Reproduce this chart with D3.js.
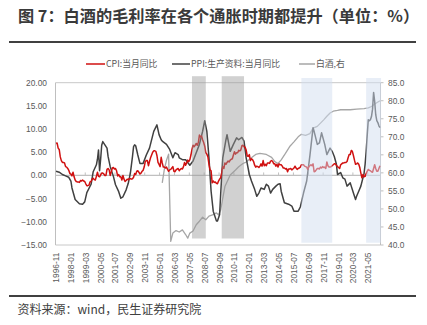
<!DOCTYPE html>
<html><head><meta charset="utf-8">
<script src="https://cdn.jsdelivr.net/npm/d3@7"></script>
<style>
html,body{margin:0;padding:0;background:#fff;}
svg{display:block;}
</style></head>
<body><svg id="c" width="427" height="325"></svg>
<script>
// ---------- DATA ----------
const startMonth = "1996-11";
const endMonth = "2022-04";
// CPI yoy, monthly from 1996-11 to 2022-04
const cpiValues = [
6.9,7.0,
5.9,5.6,4.0,3.2,2.8,2.8,2.7,1.9,1.8,1.5,1.1,0.4,
0.3,-0.1,0.7,-0.3,-1.0,-1.3,-1.4,-1.4,-1.5,-1.1,-1.2,-1.0,
-1.2,-1.3,-1.8,-2.2,-2.2,-2.1,-1.4,-1.3,-0.8,-0.6,-0.9,-1.0,
-0.2,0.7,-0.2,-0.3,0.1,0.5,0.5,0.3,0.0,0.0,1.3,1.5,
1.2,0.0,0.8,1.6,1.7,1.4,1.5,1.0,-0.1,0.2,-0.3,-0.3,
-1.0,0.0,-0.8,-1.3,-1.1,-0.8,-0.9,-0.7,-0.7,-0.8,-0.7,-0.4,
0.4,0.2,0.9,1.0,0.7,0.3,0.5,0.9,1.1,1.8,3.0,3.2,
3.2,2.1,3.0,3.8,4.4,5.0,5.3,5.3,5.2,4.3,2.8,2.4,
1.9,3.9,2.7,1.8,1.8,1.6,1.8,1.3,0.9,1.2,1.3,1.6,
1.9,0.9,0.8,1.2,1.4,1.5,1.0,1.3,1.5,1.4,1.9,2.8,
2.2,2.7,3.3,3.0,3.4,4.4,5.6,6.5,6.2,6.5,6.9,6.5,
7.1,8.7,8.3,8.5,7.7,7.1,6.3,4.9,4.6,4.0,2.4,1.2,
1.0,-1.6,-1.2,-1.5,-1.4,-1.7,-1.8,-1.2,-0.8,-0.5,0.6,1.9,
1.5,2.7,2.4,2.8,3.1,2.9,3.3,3.5,3.6,4.4,5.1,4.6,
4.9,4.9,5.4,5.3,5.5,6.4,6.5,6.2,6.1,5.5,4.2,4.1,
4.5,3.2,3.6,3.4,3.0,2.2,1.8,2.0,1.9,1.7,2.0,2.5,
2.0,3.2,2.1,2.4,2.1,2.7,2.7,2.6,3.1,3.2,3.0,2.5,
2.5,2.0,2.4,1.8,2.5,2.3,2.3,2.0,1.6,1.6,1.4,1.5,
0.8,1.4,1.4,1.5,1.2,1.4,1.6,2.0,1.6,1.3,1.5,1.6,
1.8,2.3,2.3,2.3,2.0,1.9,1.8,1.3,1.9,2.1,2.3,2.1,
2.5,0.8,0.9,1.2,1.5,1.5,1.4,1.8,1.6,1.9,1.7,1.8,
1.5,2.9,2.1,1.8,1.8,1.9,2.1,2.3,2.5,2.5,2.2,1.9,
1.7,1.5,2.3,2.5,2.7,2.7,2.8,2.8,3.0,3.8,4.5,4.5,
5.4,5.2,4.3,3.3,2.4,2.5,2.7,2.4,1.7,0.5,-0.5,0.2,
-0.3,-0.2,0.4,0.9,1.3,1.1,1.0,0.8,0.7,1.5,2.3,1.5,
0.9,0.9,1.5,2.1
];
// PPI producer goods yoy
const ppiDates = ["1996-11","1997-02","1997-05","1997-08","1997-11","1998-01","1998-02","1998-05","1998-09","1998-12",
"1999-02","1999-04","1999-08","1999-10","2000-01","2000-02","2000-03","2000-04","2000-05","2000-06","2000-07","2000-09","2000-11","2000-12",
"2001-02","2001-05","2001-07","2001-10","2001-12","2002-02","2002-05","2002-07","2002-09","2002-11","2002-12",
"2003-01","2003-02","2003-04","2003-06","2003-09","2003-12","2004-03","2004-07","2004-10","2004-12",
"2005-02","2005-03","2005-07","2005-10","2006-01","2006-03","2006-06","2006-07","2006-10",
"2007-01","2007-05","2007-08","2007-11","2008-02","2008-05","2008-07","2008-09","2008-11",
"2009-01","2009-03","2009-06","2009-07","2009-09","2009-10","2009-12","2010-03","2010-04","2010-07","2010-10",
"2011-01","2011-03","2011-06","2011-08","2011-10","2012-01","2012-03","2012-06","2012-08","2012-10","2012-12",
"2013-03","2013-05","2013-07","2013-09","2013-11","2014-02","2014-04","2014-06","2014-07","2014-10",
"2015-02","2015-05","2015-07","2015-11","2016-01","2016-04","2016-07","2016-10",
"2017-01","2017-02","2017-05","2017-07","2017-09","2017-12","2018-02","2018-05","2018-07","2018-09","2018-11","2018-12",
"2019-03","2019-05","2019-07","2019-09","2019-12","2020-03","2020-05","2020-06","2020-08","2020-10","2020-12",
"2021-01","2021-02","2021-03","2021-04","2021-05","2021-06","2021-07","2021-08","2021-09","2021-10","2021-11","2021-12",
"2022-01","2022-02","2022-03","2022-04"];
const ppiValues = [0.9,0.7,0.2,-0.1,-0.4,-1.2,-2.7,-5.2,-6.1,-6.2,
-5.7,-3.7,-1.9,0.8,2.3,3.5,5.5,1.0,3.5,6.5,7.3,6.6,5.9,4.1,
1.9,-0.2,-2.0,-3.5,-4.9,-4.6,-3.1,-1.7,0.5,4.1,6.2,
6.6,6.4,4.4,2.6,2.6,4.4,5.9,9.5,10.9,8.8,
7.7,7.4,6.7,5.6,3.8,4.9,4.5,3.8,3.4,
3.4,2.2,3.1,4.9,6.7,9.5,11.8,9.5,3.8,
-3.4,-7.7,-9.8,-9.8,-8.5,-4.1,3.8,7.7,8.8,5.2,6.7,
8.1,7.7,8.2,7.4,3.8,0.2,-1.2,-3.0,-4.5,-3.8,-2.7,
-3.0,-1.9,-2.3,-3.8,-3.0,-2.3,-1.9,-1.8,-3.4,-5.9,
-6.2,-6.6,-7.7,-7.7,-6.8,-3.8,-1.2,4.2,
10.3,9.5,6.7,7.0,9.2,6.7,4.5,5.9,5.2,4.1,2.4,0.2,
0.6,-0.5,-0.8,-2.3,-1.6,-3.8,-5.2,-4.5,-3.4,-2.3,-0.5,
0.4,2.4,5.2,8.7,12.0,11.8,12.0,12.7,14.3,17.9,16.0,13.1,
11.8,11.4,10.7,10.3];
// Baijiu gross margin (right axis)
const baijiuDates = ["2005-03","2005-05","2005-07","2005-09","2005-11","2006-01","2006-04","2006-07","2006-10",
"2007-01","2007-03","2007-05","2007-08","2007-11","2008-02","2008-05","2008-08","2008-11",
"2009-03","2009-06","2009-08","2009-10","2009-12","2010-02","2010-07","2010-12","2011-03","2011-07","2011-10",
"2012-02","2012-07","2012-11","2013-05","2013-10","2014-01","2014-04","2014-07","2014-11",
"2015-03","2015-07","2015-11","2016-02","2016-06","2016-10","2017-01","2017-05","2017-08","2017-11",
"2018-02","2018-05","2018-08","2018-12","2019-03","2019-12","2020-06","2021-01","2021-05","2021-08","2021-11","2022-04"];
const baijiuValues = [57.2,61.0,63.5,65.2,41.0,43.3,44.0,43.6,44.2,
42.9,41.9,43.3,43.9,45.6,46.6,47.7,47.0,48.0,
48.4,48.9,48.4,49.7,53.0,56.2,59.4,60.8,61.7,62.6,63.0,
64.0,65.1,65.4,65.1,64.3,63.1,62.6,63.6,65.4,
67.3,68.6,70.0,70.7,70.4,70.9,72.4,72.9,73.8,74.7,
75.7,76.6,77.1,77.3,77.5,77.5,77.7,77.8,78.0,78.4,79.1,80.0];
// Shaded inflation periods
const bandStarts = ["2007-07","2009-11","2016-02","2021-03"];
const bandEnds   = ["2008-08","2011-08","2018-07","2022-05"];
const bandKinds  = ["gray","gray","blue","blue"];
// Tick labels
const xTickLabels = ["1996-11","1998-01","1999-03","2000-05","2001-07","2002-09","2003-11","2005-01","2006-03","2007-05","2008-07",
"2009-09","2010-11","2012-01","2013-03","2014-05","2015-07","2016-09","2017-11","2019-01","2020-03","2021-05"];
const leftTicks = [-15,-10,-5,0,5,10,15,20];
const rightTicks = [40,45,50,55,60,65,70,75,80,85];
const legendLabels = ["CPI:当月同比","PPI:生产资料:当月同比","白酒,右"];
const titleText = "图 7：白酒的毛利率在各个通胀时期都提升（单位：%）";
const sourceText = "资料来源：wind，民生证券研究院";

// ---------- DRAW ----------
const svg = d3.select("#c");
const CJK = "'Noto Sans CJK SC','Noto Sans',sans-serif";
const NUM = "'Liberation Sans',Arial,sans-serif";
const idx = s => { const [y,m] = s.split("-").map(Number); return (y-1996)*12 + (m-11); };
const N = idx(endMonth) + 1;

const L = 55.5, R = 380.5, T = 82.7, B = 245;
const x = d3.scaleLinear().domain([-0.5, N-0.5]).range([L, R]);
const yL = d3.scaleLinear().domain([-15, 20]).range([B, T]);
const yR = d3.scaleLinear().domain([40, 85]).range([B, T]);

svg.append("rect").attr("width",427).attr("height",325).attr("fill","#fff");

// title
svg.append("text").attr("x",18).attr("y",21.5).text(titleText)
  .attr("font-family",CJK).attr("font-weight","bold").attr("font-size",16.2).attr("fill","#3a3a3a");
svg.append("line").attr("x1",9).attr("x2",416).attr("y1",42).attr("y2",42).attr("stroke","#404040").attr("stroke-width",1.8);

// frame
svg.append("line").attr("x1",L).attr("x2",R).attr("y1",T).attr("y2",T).attr("stroke","#c8c8c8");
svg.append("line").attr("x1",L).attr("x2",R).attr("y1",B).attr("y2",B).attr("stroke","#c8c8c8");
svg.append("line").attr("x1",L).attr("x2",L).attr("y1",T).attr("y2",B).attr("stroke","#bfbfbf");

// zero line + category ticks
svg.append("line").attr("x1",L).attr("x2",R).attr("y1",yL(0)).attr("y2",yL(0)).attr("stroke","#c0c0c0").attr("stroke-width",1.2);
svg.selectAll(".ct").data(xTickLabels).join("line")
  .attr("x1",d=>x(idx(d)-0.5)).attr("x2",d=>x(idx(d)-0.5))
  .attr("y1",yL(0)).attr("y2",yL(0)-3).attr("stroke","#c0c0c0");

// left axis labels
svg.selectAll(".lt").data(leftTicks).join("text")
  .attr("x",47).attr("y",d=>yL(d)).attr("dy","0.35em").attr("text-anchor","end")
  .attr("font-family",NUM).attr("font-size",8.4).attr("fill","#595959")
  .text(d=>d3.format(".2f")(d));

// right axis
svg.append("line").attr("x1",R).attr("x2",R).attr("y1",T).attr("y2",B).attr("stroke","#bfbfbf");
svg.selectAll(".rtk").data(rightTicks).join("line")
  .attr("x1",R).attr("x2",R+3).attr("y1",d=>yR(d)).attr("y2",d=>yR(d)).attr("stroke","#bfbfbf");
svg.selectAll(".rt").data(rightTicks).join("text")
  .attr("x",388).attr("y",d=>yR(d)).attr("dy","0.35em")
  .attr("font-family",NUM).attr("font-size",8.4).attr("fill","#595959")
  .text(d=>d3.format(".1f")(d));

// x labels
svg.selectAll(".xl").data(xTickLabels).join("text")
  .attr("transform",d=>`translate(${x(idx(d))},252.5) rotate(-90)`)
  .attr("dy","0.35em").attr("text-anchor","end")
  .attr("font-family",NUM).attr("font-size",8.4).attr("fill","#595959")
  .text(d=>d);

// series
const cpi = cpiValues.map((v,i)=>({i, v}));
const ppi = ppiDates.map((d,k)=>({i: idx(d), v: ppiValues[k]}));
const bj = baijiuDates.map((d,k)=>({i: idx(d), v: baijiuValues[k]}));

svg.append("path").datum(bj).attr("fill","none").attr("stroke","#a6a6a6").attr("stroke-width",1.3)
  .attr("stroke-linejoin","round")
  .attr("d", d3.line().x(d=>x(d.i)).y(d=>yR(d.v)));
svg.append("path").datum(ppi).attr("fill","none").attr("stroke","#404040").attr("stroke-width",1.5)
  .attr("stroke-linejoin","round")
  .attr("d", d3.line().x(d=>x(d.i)).y(d=>yL(d.v)));
svg.append("path").datum(cpi).attr("fill","none").attr("stroke","#d01010").attr("stroke-width",1.5)
  .attr("stroke-linejoin","round")
  .attr("d", d3.line().x(d=>x(d.i)).y(d=>yL(d.v)));

// shaded bands (over lines, translucent)
svg.selectAll(".band").data(bandStarts).join("rect")
  .attr("x",(d,k)=>x(idx(d)))
  .attr("width",(d,k)=>x(idx(bandEnds[k])) - x(idx(d)))
  .attr("y",(d,k)=> bandKinds[k]==="gray" ? T-6.5 : T-4.7)
  .attr("height",(d,k)=> bandKinds[k]==="gray" ? (B-T) : (B-T)+2.4)
  .attr("fill",(d,k)=> bandKinds[k]==="gray" ? "#9a9a9a" : "#d2deef")
  .attr("fill-opacity",(d,k)=> bandKinds[k]==="gray" ? 0.45 : 0.5);

// legend
const legItems = [
  {lx:86, tx:106, color:"#d01010"},
  {lx:172, tx:191, color:"#404040"},
  {lx:299, tx:316, color:"#a6a6a6"}
];
const lg = svg.append("g");
legItems.forEach((it,k)=>{
  lg.append("line").attr("x1",it.lx).attr("x2",it.tx-1).attr("y1",64).attr("y2",64)
    .attr("stroke",it.color).attr("stroke-width",1.5);
  lg.append("text").attr("x",it.tx).attr("y",64).attr("dy","0.35em")
    .attr("font-family",CJK).attr("font-size",8.8).attr("fill","#595959").text(legendLabels[k]);
});

// footer
svg.append("line").attr("x1",9).attr("x2",416).attr("y1",296).attr("y2",296).attr("stroke","#404040").attr("stroke-width",1.8);
svg.append("text").attr("x",17.5).attr("y",313.5).text(sourceText)
  .attr("font-family",CJK).attr("font-size",12).attr("fill","#404040");
</script></body></html>
